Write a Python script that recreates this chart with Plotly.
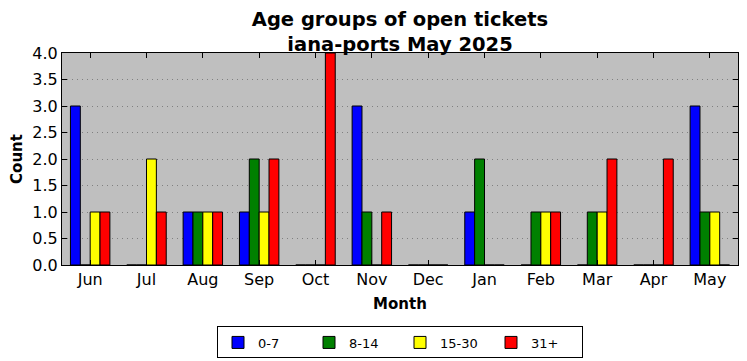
import plotly.graph_objects as go

months = ["Jun", "Jul", "Aug", "Sep", "Oct", "Nov", "Dec", "Jan", "Feb", "Mar", "Apr", "May"]
age_0_7 = [3, 0, 1, 1, 0, 3, 0, 1, 0, 0, 0, 3]
age_8_14 = [0, 0, 1, 2, 0, 1, 0, 2, 1, 1, 0, 1]
age_15_30 = [1, 2, 1, 1, 0, 0, 0, 0, 1, 1, 0, 1]
age_31p = [1, 1, 1, 2, 4, 1, 0, 0, 1, 2, 2, 0]

series = [("0-7", age_0_7, "#0000ff"), ("8-14", age_8_14, "#008000"),
          ("15-30", age_15_30, "#ffff00"), ("31+", age_31p, "#ff0000")]

fig = go.Figure()
for name, vals, col in series:
    fig.add_trace(go.Bar(x=months, y=vals, name=name,
                         marker=dict(color=col, line=dict(color="black", width=1))))

# page body has an 8px margin, so the figure is offset by 8px
W, H = 739, 353
font = "DejaVu Sans"
fig.update_layout(
    width=W, height=H,
    margin=dict(l=54, r=9, t=45, b=96, autoexpand=False),
    paper_bgcolor="white", plot_bgcolor="#bfbfbf",
    barmode="group", bargap=0.3, bargroupgap=0,
    font=dict(family=font, size=13, color="black"),
    title=dict(text="<b>Age groups of open tickets<br>iana-ports May 2025</b>",
               x=(54 + 676 / 2) / W, xanchor="center",
               yref="container", y=1 - 18 / H, yanchor="middle",
               font=dict(family=font, size=19.5)),
    legend=dict(orientation="h", x=0.5, xanchor="center", y=-0.29, yanchor="top",
                bordercolor="black", borderwidth=1, font=dict(size=13),
                itemwidth=30, traceorder="normal",
                entrywidth=46, entrywidthmode="pixels"),
    showlegend=True,
)
fig.update_xaxes(range=[-0.5, 11.5], showline=True, linecolor="black", linewidth=1,
                 mirror="ticks", ticks="inside", ticklen=5, tickcolor="black",
                 showgrid=False, tickfont=dict(size=16), automargin=False,
                 title=dict(text="<b>Month</b>", font=dict(size=15), standoff=10))
fig.update_yaxes(range=[0, 4], dtick=0.5, tickformat=".1f", showline=True,
                 linecolor="black", linewidth=1, mirror="ticks", ticks="inside",
                 ticklen=5, tickcolor="black", showgrid=True, gridcolor="#808080",
                 griddash="1px,4px", gridwidth=1, zeroline=False, tickfont=dict(size=16),
                 automargin=False,
                 title=dict(text="<b>Count</b>", font=dict(size=15), standoff=6))
fig.write_html("out.html")
